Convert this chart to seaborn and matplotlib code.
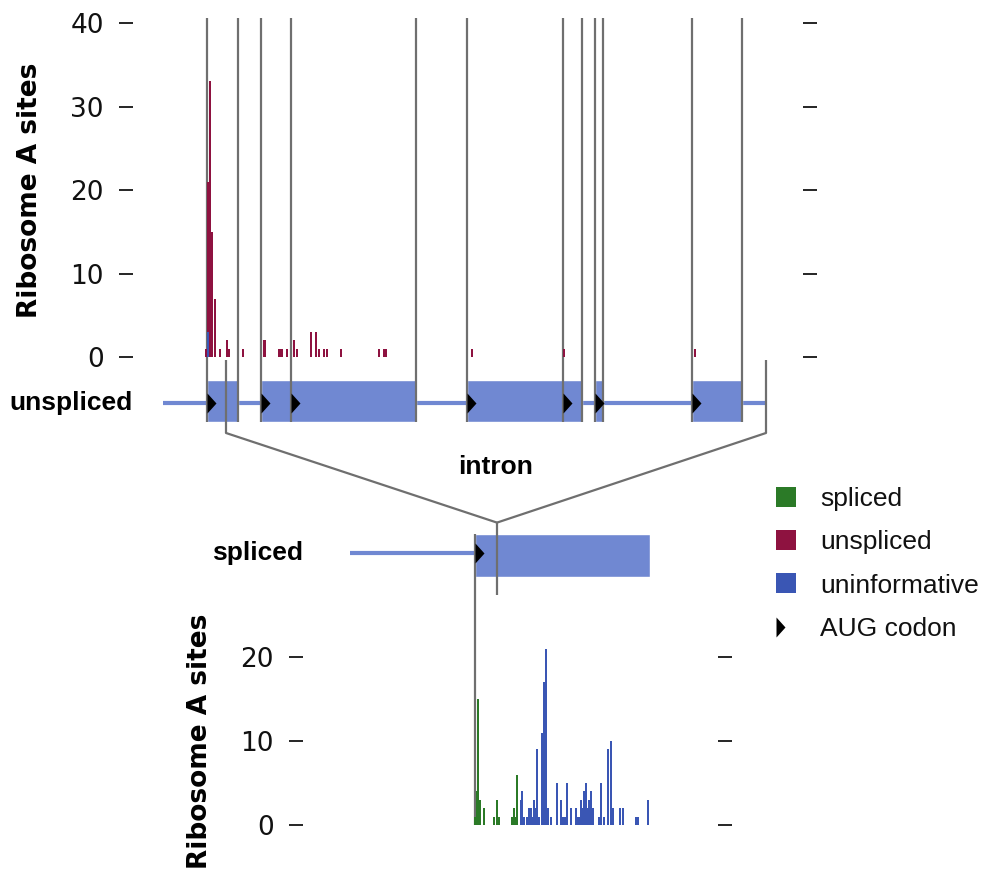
import numpy as np
import pandas as pd
import matplotlib
matplotlib.use("Agg")
import matplotlib.pyplot as plt
import matplotlib.transforms as mtransforms
from matplotlib.lines import Line2D
from matplotlib.patches import ConnectionPatch
import seaborn as sns

# ---- data -------------------------------------------------------------
# unspliced transcript (top track), positions in nt from transcript start
unspliced_len = 603
unspliced_exons = [(44, 75), (98, 253), (304, 419), (432, 440), (529, 579)]
unspliced_aug = [44, 98, 128, 304, 400, 432, 529]
intron = (63, 603)

# ribosome A sites on the unspliced transcript
top_unspliced_pos = [43, 45, 47, 49, 52, 57, 64, 66, 80, 101, 102, 116, 118, 119,
                     124, 131, 134, 148, 153, 156, 161, 164, 178, 216, 221, 223,
                     309, 401, 532]
top_unspliced_val = [1, 21, 33, 15, 7, 1, 2, 1, 1, 2, 2, 1, 1, 1,
                     1, 2, 1, 3, 3, 1, 1, 1, 1, 1, 1, 1,
                     1, 1, 1]
top_uninf_pos = [45]
top_uninf_val = [3]

# spliced transcript (bottom track)
spliced_utr_start = -125
spliced_cds = (0, 175)
spliced_aug = [0]
splice_junction = 22

bot_spliced_pos = [0, 2, 3, 5, 9, 19, 22, 24, 37, 39, 41, 42]
bot_spliced_val = [1, 4, 15, 3, 2, 1, 3, 1, 1, 2, 1, 6]
bot_uninf_pos = [46, 47, 49, 52, 54, 56, 58, 59, 61, 62, 64, 67, 69, 71, 73, 76,
                 82, 86, 88, 90, 92, 96, 101, 103, 104, 106, 108, 109, 111, 113,
                 114, 116, 118, 124, 126, 129, 133, 136, 138, 145, 148, 161, 163,
                 173]
bot_uninf_val = [3, 4, 1, 1, 2, 2, 1, 3, 2, 9, 1, 11, 17, 21, 2, 1,
                 5, 3, 1, 1, 5, 2, 2, 1, 1, 3, 2, 4, 5, 2,
                 3, 4, 2, 1, 5, 1, 9, 10, 2, 2, 2, 1, 1,
                 3]

categories = ["spliced", "unspliced", "uninformative"]
palette = {"spliced": "#2b7a27", "unspliced": "#8e1240", "uninformative": "#3a56b4"}
model_blue = "#7088d2"
guide_grey = "#6f6f6f"

# ---- style ------------------------------------------------------------
sns.set_theme(style="white")
plt.rcParams["font.family"] = ["DejaVu Sans"]
label_font = "Liberation Sans"

W, H = 981, 872
fig = plt.figure(figsize=(W / 100, H / 100), dpi=100)


def px_box(left, top, right, bottom):
    return [left / W, 1 - bottom / H, (right - left) / W, (bottom - top) / H]


ax_top = fig.add_axes(px_box(133, 23, 803, 357))
ax_bot = fig.add_axes(px_box(303, 657, 718, 825))

top_df = pd.DataFrame({
    "pos": top_unspliced_pos + top_uninf_pos,
    "sites": top_unspliced_val + top_uninf_val,
    "read": ["unspliced"] * len(top_unspliced_pos) + ["uninformative"] * len(top_uninf_pos),
})
bot_df = pd.DataFrame({
    "pos": bot_spliced_pos + bot_uninf_pos,
    "sites": bot_spliced_val + bot_uninf_val,
    "read": ["spliced"] * len(bot_spliced_pos) + ["uninformative"] * len(bot_uninf_pos),
})

for ax, df, order in [(ax_top, top_df, ["unspliced", "uninformative"]),
                      (ax_bot, bot_df, ["spliced", "uninformative"])]:
    sns.barplot(data=df, x="pos", y="sites", hue="read", hue_order=order,
                palette=palette, native_scale=True, dodge=False, errorbar=None,
                width=2, saturation=1, linewidth=0, legend=False, ax=ax, zorder=2)
    for bar in ax.patches:
        bar.set_clip_on(False)

ax_top.set_xlim(-30, 640)
ax_top.set_ylim(0, 40)
ax_top.set_yticks([0, 10, 20, 30, 40])
ax_bot.set_xlim(-172, 243)
ax_bot.set_ylim(0, 20)
ax_bot.set_yticks([0, 10, 20])

for ax in (ax_top, ax_bot):
    ax.set_facecolor("none")
    sns.despine(ax=ax, left=True, bottom=True)
    ax.set_xticks([])
    ax.set_xlabel("")
    ax.set_ylabel("Ribosome A sites", fontsize=19, fontweight="bold",
                  color="black", labelpad=20)
    ax.tick_params(axis="y", left=True, right=True, labelleft=True,
                   direction="out", length=10, width=1.2, pad=11,
                   color="black", labelcolor="#111111", labelsize=19)

aug_marker = [(0, -1), (0.9, 0), (0, 1)]

# ---- unspliced gene model (top) ---------------------------------------
line_y, box_lo, box_hi = -5.5, -7.8, -2.75
ax_top.plot([0, unspliced_len], [line_y, line_y], color=model_blue, lw=3,
            solid_capstyle="butt", clip_on=False, zorder=0.5)
ax_top.broken_barh([(s, e - s) for s, e in unspliced_exons], (box_lo, box_hi - box_lo),
                   facecolor=model_blue, clip_on=False, zorder=0.6)
guides = sorted(set([b for ex in unspliced_exons for b in ex] + unspliced_aug))
ax_top.vlines(guides, box_lo, 40.6, color=guide_grey, lw=1.6, clip_on=False, zorder=1)
ax_top.plot(unspliced_aug, [line_y] * len(unspliced_aug), ls="", marker=aug_marker,
            ms=14.4, mew=0, color="black", clip_on=False, zorder=3)
ax_top.vlines(intron, -0.3, -9.1, color=guide_grey, lw=1.6, clip_on=False, zorder=1)
ax_top.text(sum(intron) / 2, -13.2, "intron", ha="center", va="center",
            fontsize=19, fontweight="bold", family=label_font, color="black")
ax_top.text(0, line_y, "unspliced", transform=mtransforms.blended_transform_factory(
    ax_top.transAxes, ax_top.transData), ha="right", va="center",
    fontsize=19, fontweight="bold", family=label_font, color="black")

# ---- spliced gene model (bottom) --------------------------------------
s_line, s_lo, s_hi = 32.4, 29.5, 34.6
ax_bot.plot([spliced_utr_start, spliced_cds[0]], [s_line, s_line], color=model_blue,
            lw=3, solid_capstyle="butt", clip_on=False, zorder=0.5)
ax_bot.broken_barh([(spliced_cds[0], spliced_cds[1] - spliced_cds[0])], (s_lo, s_hi - s_lo),
                   facecolor=model_blue, clip_on=False, zorder=0.6)
ax_bot.vlines(spliced_aug, 0, s_hi, color=guide_grey, lw=1.6, clip_on=False, zorder=1)
ax_bot.vlines([splice_junction], 27.4, 36.0, color=guide_grey, lw=1.6, clip_on=False, zorder=1)
ax_bot.plot(spliced_aug, [s_line] * len(spliced_aug), ls="", marker=aug_marker,
            ms=14.4, mew=0, color="black", clip_on=False, zorder=3)
ax_bot.text(0, s_line, "spliced", transform=mtransforms.blended_transform_factory(
    ax_bot.transAxes, ax_bot.transData), ha="right", va="center",
    fontsize=19, fontweight="bold", family=label_font, color="black")

# intron collapses onto the splice junction
for x in intron:
    con = ConnectionPatch(xyA=(x, -9.1), coordsA=ax_top.transData,
                          xyB=(splice_junction, 36.0), coordsB=ax_bot.transData,
                          color=guide_grey, lw=1.6)
    fig.add_artist(con)

# ---- legend -----------------------------------------------------------
handles = [Line2D([], [], ls="", marker="s", ms=14, mew=0, color=palette[c]) for c in categories]
handles.append(Line2D([], [], ls="", marker=[(-1, -1), (-0.1, 0), (-1, 1)], ms=14.4,
                      mew=0, color="black"))
fig.legend(handles, categories + ["AUG codon"], loc="upper left",
           bbox_to_anchor=(772.8 / W, 1 - 487 / H), frameon=False,
           prop={"family": label_font, "size": 19}, handlelength=1.0,
           handletextpad=0.79, labelspacing=0.73, borderpad=0, borderaxespad=0,
           labelcolor="#111111")

fig.savefig("out.png", dpi=100)
